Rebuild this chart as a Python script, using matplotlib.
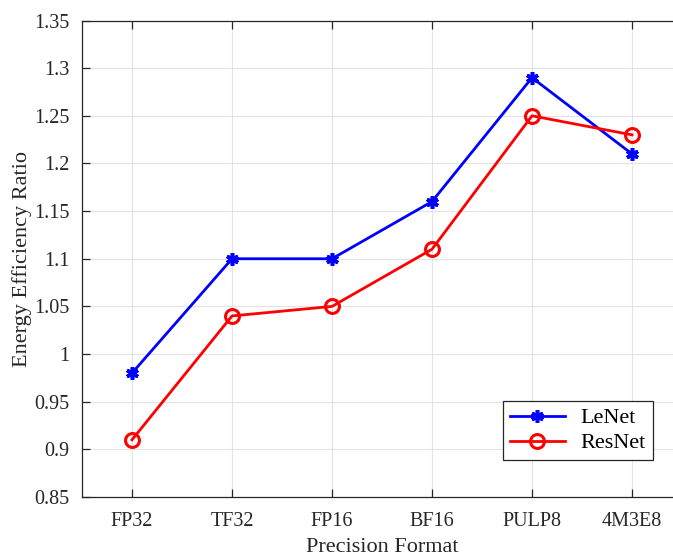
import matplotlib.pyplot as plt
from matplotlib.ticker import FuncFormatter

plt.rcParams.update({
    "font.family": ["Liberation Serif", "DejaVu Serif"],
    "font.size": 14,
    "axes.linewidth": 0.9,
    "xtick.direction": "in",
    "ytick.direction": "in",
})

formats = ["FP32", "TF32", "FP16", "BF16", "PULP8", "4M3E8"]
lenet = [0.98, 1.10, 1.10, 1.16, 1.29, 1.21]
resnet = [0.91, 1.04, 1.05, 1.11, 1.25, 1.23]
y_ticks = [0.85, 0.9, 0.95, 1.0, 1.05, 1.1, 1.15, 1.2, 1.25, 1.3, 1.35]

text_color = "#262626"

fig = plt.figure(figsize=(6.73, 5.52), dpi=100)
# axes runs past the right edge of the picture, as in the reference
ax = fig.add_axes([82 / 673, 55 / 552, 600 / 673, 476.5 / 552])

x = list(range(1, len(formats) + 1))
ax.plot(x, lenet, color="#0000ff", lw=2.0, marker=(6, 2, 0),
        markersize=9, markeredgewidth=2.6, label="LeNet", zorder=3)
ax.plot(x, resnet, color="#ff0000", lw=2.0, marker="o", markersize=10,
        markerfacecolor="none", markeredgewidth=2.2, label="ResNet", zorder=3)

ax.set_xlim(0.5, 6.5)
ax.set_ylim(0.85, 1.35)
ax.set_xticks(x)
ax.set_xticklabels(formats)
ax.set_yticks(y_ticks)
ax.yaxis.set_major_formatter(FuncFormatter(lambda v, p: f"{v:g}"))

ax.tick_params(axis="both", which="major", length=6, width=0.9,
               colors=text_color, labelcolor=text_color, labelsize=14.5,
               top=True, right=True)
ax.tick_params(axis="x", pad=11)
ax.tick_params(axis="y", pad=9)
ax.grid(True, color="#e3e3e3", lw=0.8)
ax.set_axisbelow(True)
for s in ax.spines.values():
    s.set_color(text_color)

ax.set_xlabel("Precision Format", color=text_color, fontsize=16, labelpad=5)
ax.set_ylabel("Energy Efficiency Ratio", color=text_color, fontsize=16, labelpad=1.5)

leg = ax.legend(loc="lower left", bbox_to_anchor=(421 / 600, 37 / 476.5),
                fancybox=False, framealpha=1, edgecolor=text_color,
                fontsize=16, handlelength=2.5, borderpad=0.3,
                labelspacing=0.2, handletextpad=0.7, borderaxespad=0)
leg.get_frame().set_linewidth(0.9)

fig.savefig("out.png", dpi=100)
